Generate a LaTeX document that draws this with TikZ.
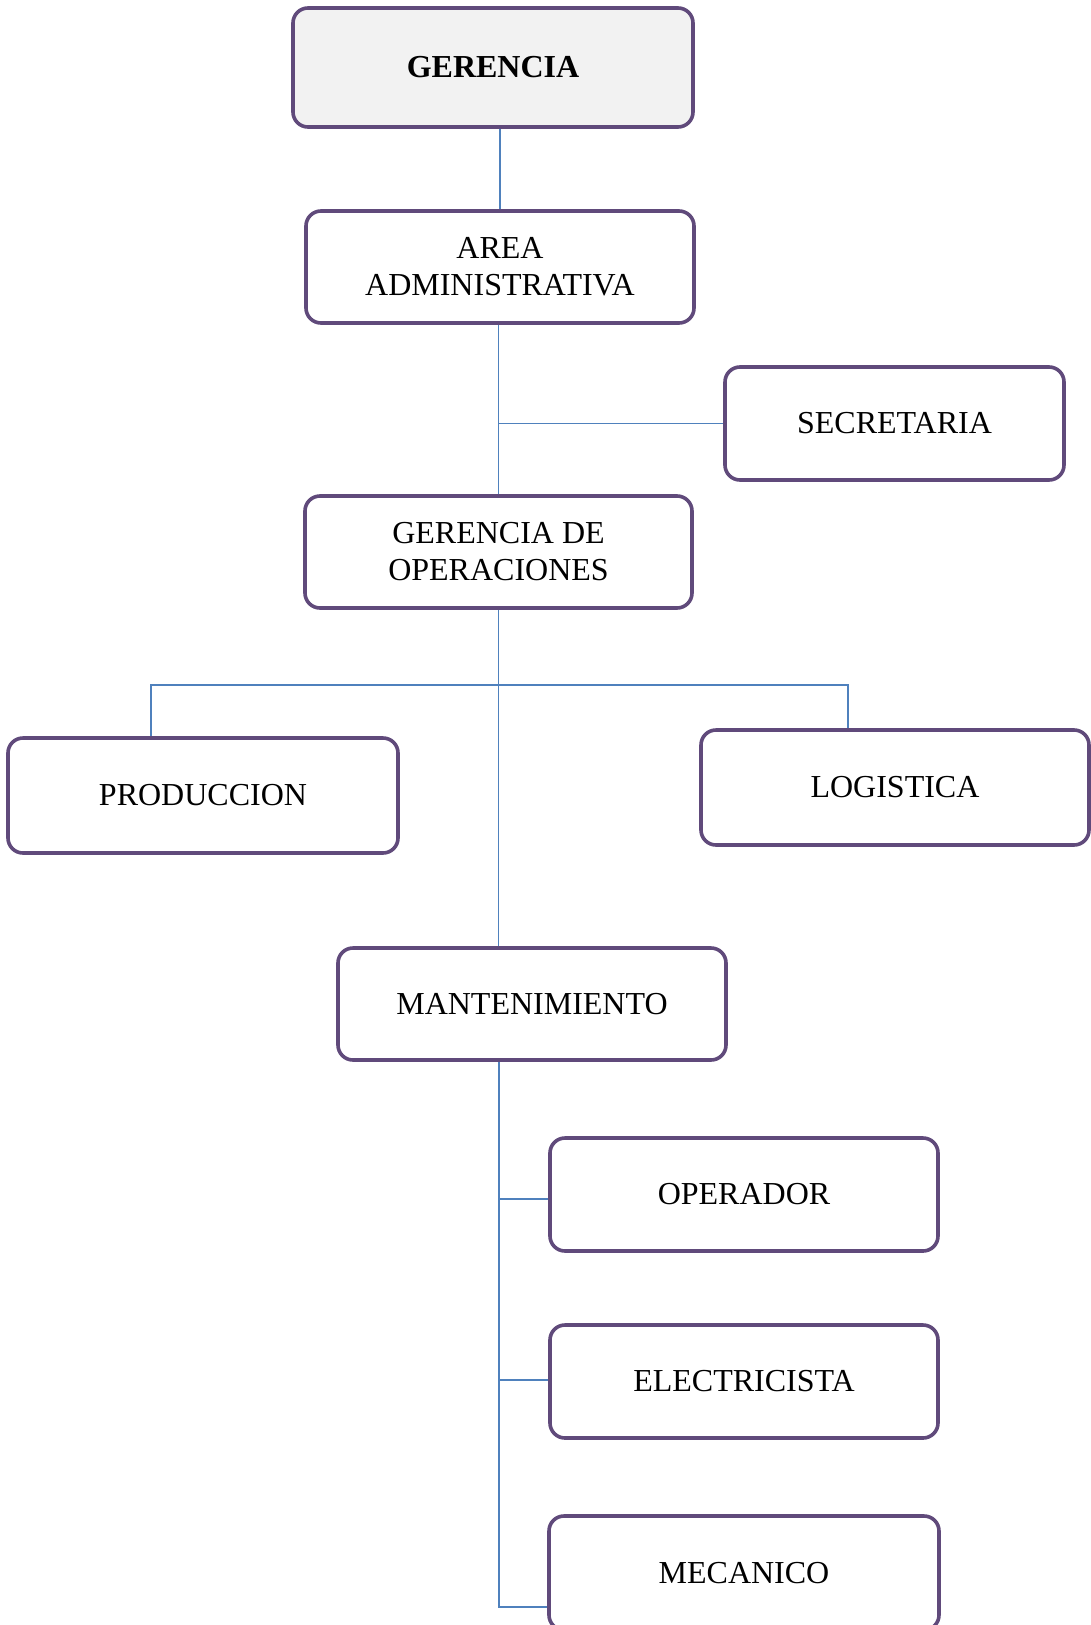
\documentclass[tikz,border=0pt]{standalone}
\usepackage{fontspec}
\setmainfont{Liberation Serif}
\definecolor{boxline}{HTML}{604A7B}
\definecolor{conn}{HTML}{4F81BD}
\definecolor{topfill}{HTML}{F2F2F2}
\begin{document}
\begin{tikzpicture}[x=1pt,y=-1pt,
  orgbox/.style={draw=boxline,line width=3.6pt,rounded corners=15pt,fill=white,
    inner sep=0pt,align=center,font=\fontsize{32}{37}\selectfont},
  link/.style={draw=conn,line width=1.6pt}]
\useasboundingbox (0,0) rectangle (1090,1625);
\node[orgbox,fill=topfill,minimum width=400pt,minimum height=119pt,font=\fontsize{32}{37}\selectfont\bfseries] (ger) at (493,67.5) {GERENCIA};
\node[orgbox,minimum width=388pt,minimum height=112pt] (area) at (500,267) {AREA\\ADMINISTRATIVA};
\node[orgbox,minimum width=339pt,minimum height=113pt] (sec) at (894.5,423.5) {SECRETARIA};
\node[orgbox,minimum width=387pt,minimum height=112pt] (gdo) at (498.5,552) {GERENCIA DE\\OPERACIONES};
\node[orgbox,minimum width=390pt,minimum height=115pt] (prod) at (203,795.5) {PRODUCCION};
\node[orgbox,minimum width=388pt,minimum height=115pt] (log) at (895,787.5) {LOGISTICA};
\node[orgbox,minimum width=388pt,minimum height=112pt] (mant) at (532,1004) {MANTENIMIENTO};
\node[orgbox,minimum width=388pt,minimum height=113pt] (op) at (744,1194.5) {OPERADOR};
\node[orgbox,minimum width=388pt,minimum height=113pt] (ele) at (744,1381.5) {ELECTRICISTA};
\node[orgbox,minimum width=390pt,minimum height=114pt] (mec) at (744,1573) {MECANICO};
\coordinate (hb) at (499,685);
\draw[link] (area.north) -- (area.north |- ger.south);
\draw[link] (gdo.north) -- (gdo.north |- area.south);
\draw[link] (sec.west) -- (sec.west -| gdo.north);
\draw[link] (gdo.south) -- (gdo.south |- mant.north);
\draw[link] ([xshift=-52pt]prod.north) |- (hb) -| ([xshift=-47pt]log.north);
\draw[link] ([xshift=-33pt]mant.south) |- ([yshift=-34pt]mec.west);
\draw[link] ([yshift=-4.5pt]op.west) -- ([yshift=-4.5pt]op.west -| hb);
\draw[link] ([yshift=1.5pt]ele.west) -- ([yshift=1.5pt]ele.west -| hb);
\end{tikzpicture}
\end{document}
